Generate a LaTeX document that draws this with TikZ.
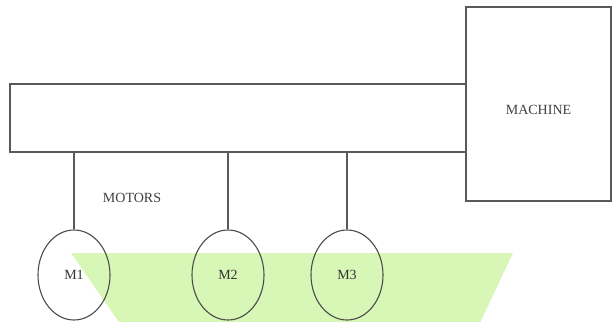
\documentclass[tikz,border=0pt]{standalone}
\usepackage{fontspec}
\setmainfont{Liberation Serif}
\usetikzlibrary{shapes.geometric}
\definecolor{vertpale}{RGB}{216,247,182}

\begin{document}
\begin{tikzpicture}[x=1pt, y=-1pt]
\tikzset{boite/.style={draw=black!65, line width=1.2pt, rectangle, inner sep=0pt},
moteur/.style={draw=black!70, line width=1.1pt, ellipse, minimum width=72pt, minimum height=90pt, inner sep=0pt, font=\fontsize{14}{16}\selectfont, text=black!80},
etiq/.style={font=\fontsize{14}{16}\selectfont, text=black!75}}
\useasboundingbox (0,0) rectangle (612,321);
\fill[vertpale] (71,253) -- (513,253) -- (479,325) -- (121,325) -- cycle;
\node[boite, minimum width=456pt, minimum height=68pt] (arbre) at (238,118) {};
\node[boite, minimum width=145pt, minimum height=194pt, label={[etiq, yshift=-6pt]center:MACHINE}] (machine) at (538.5,104) {};
\node[moteur] (M1) at (74,275) {M1};
\node[moteur] (M2) at (228,275) {M2};
\node[moteur] (M3) at (347,275) {M3};
\node[etiq] (motors) at (132,198) {MOTORS};
\draw[black!65, line width=1.2pt] (M1.north) -- (M1.north |- arbre.south);
\draw[black!65, line width=1.2pt] (M2.north) -- (M2.north |- arbre.south);
\draw[black!65, line width=1.2pt] (M3.north) -- (M3.north |- arbre.south);
\end{tikzpicture}
\end{document}
